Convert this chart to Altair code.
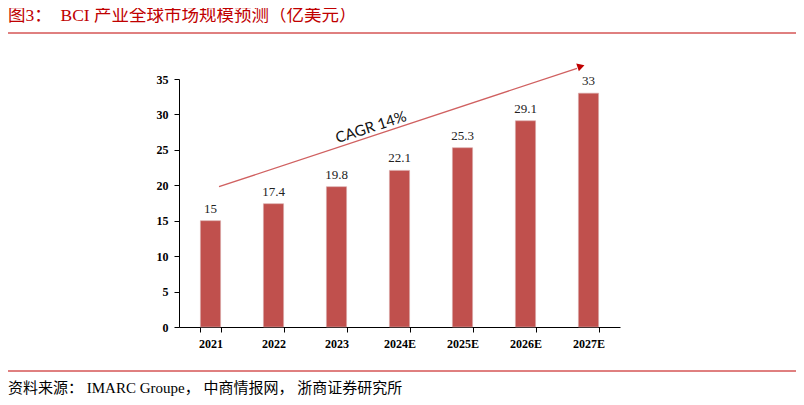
import altair as alt
import pandas as pd

years = ["2021", "2022", "2023", "2024E", "2025E", "2026E", "2027E"]
values = [15, 17.4, 19.8, 22.1, 25.3, 29.1, 33]
labels = ["15", "17.4", "19.8", "22.1", "25.3", "29.1", "33"]
y_ticks = [0, 5, 10, 15, 20, 25, 30, 35]

NB = "\u00a0"
title_text = "图3：" + NB * 2 + "BCI" + NB + "产业全球市场规模预测（亿美元）"
source_text = "资料来源：" + NB + "IMARC Groupe，" + NB + "中商情报网，" + NB + "浙商证券研究所"
cagr_text = "CAGR 14%"
arrow_y = [19.8, 36.5]
cagr_y = 28.2

df = pd.DataFrame({"year": years, "value": values, "label": labels})

W, H = 441, 248
RED = "#C0504D"

xscale = alt.Scale(domain=years, paddingInner=0.68, paddingOuter=0.34)
yscale = alt.Scale(domain=[0, 35], nice=False)

xaxis = alt.Axis(labelAngle=0, tickBand="extent", labelFont="Liberation Serif",
                 labelFontWeight="bold", labelFontSize=12, labelColor="#000",
                 domainColor="#000", tickColor="#000", tickSize=5, labelPadding=6)
yaxis = alt.Axis(values=y_ticks, grid=False, labelOverlap=False,
                 labelFont="Liberation Serif", labelFontWeight="bold",
                 labelFontSize=12, labelColor="#000", domainColor="#000",
                 tickColor="#000", tickSize=5, labelPadding=6)

base = alt.Chart(df)

bars = base.mark_bar(color=RED, stroke="#d8a8a8", strokeWidth=0.6).encode(
    x=alt.X("year:N", scale=xscale, sort=years, title=None, axis=xaxis),
    y=alt.Y("value:Q", scale=yscale, title=None, axis=yaxis),
)

text = base.mark_text(baseline="bottom", dy=-5, font="Liberation Serif", fontSize=13,
                      color="#222").encode(
    x=alt.X("year:N", scale=xscale, sort=years, title=None, axis=xaxis),
    y=alt.Y("value:Q", scale=yscale, title=None, axis=yaxis),
    text="label:N",
)

arrow = alt.Chart(pd.DataFrame({"y1": [arrow_y[0]], "y2": [arrow_y[1]]})).mark_rule(
    color="#d06060", strokeWidth=1.3).encode(
    x=alt.value(40), x2=alt.value(398),
    y=alt.Y("y1:Q", scale=yscale, title=None, axis=yaxis), y2="y2:Q",
)

head = alt.Chart(pd.DataFrame({"y": [arrow_y[1] + 0.3]})).mark_point(
    shape="triangle-right", filled=True, color="#C00000", size=70, angle=342, opacity=1).encode(
    x=alt.value(402), y=alt.Y("y:Q", scale=yscale, title=None, axis=yaxis),
)

cagr = alt.Chart(pd.DataFrame({"y": [cagr_y], "t": [cagr_text]})).mark_text(
    font="Lato", fontSize=15, angle=342, color="#111").encode(
    x=alt.value(192), y=alt.Y("y:Q", scale=yscale, title=None, axis=yaxis), text="t:N",
)

title = alt.Chart(pd.DataFrame({"t": [title_text]})).mark_text(
    align="left", baseline="middle", font="Liberation Serif, Noto Sans CJK SC",
    fontSize=17.5, color="#C00000").encode(
    x=alt.value(-171), y=alt.value(-63), text="t:N",
)

source = alt.Chart(pd.DataFrame({"t": [source_text]})).mark_text(
    align="left", baseline="middle", font="Liberation Serif, Noto Sans CJK SC",
    fontSize=15, color="#000").encode(
    x=alt.value(-171), y=alt.value(309), text="t:N",
)

top_line = alt.Chart(pd.DataFrame({"a": [0]})).mark_rule(color="#C00000", strokeWidth=1).encode(
    x=alt.value(-172), x2=alt.value(621), y=alt.value(-46))
bottom_line = alt.Chart(pd.DataFrame({"a": [0]})).mark_rule(color="#C00000", strokeWidth=1).encode(
    x=alt.value(-172), x2=alt.value(621), y=alt.value(292))

chart = alt.layer(bars, text, arrow, head, cagr, title, source, top_line, bottom_line).properties(
    width=W, height=H,
    autosize=alt.AutoSizeParams(type="none"),
    padding={"left": 171, "top": 71, "right": 176, "bottom": 70},
).configure_view(stroke=None)

chart.save("out.html", embed_options={"renderer": "svg", "actions": False})
